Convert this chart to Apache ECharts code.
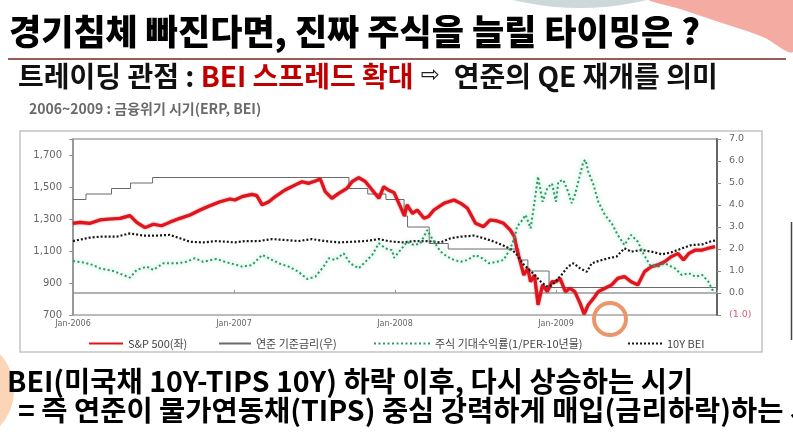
<!DOCTYPE html>
<html>
<head>
<meta charset="utf-8">
<script src="https://cdn.jsdelivr.net/npm/echarts@6/dist/echarts.min.js"></script>
<style>
html,body{margin:0;padding:0;background:#fff;}
#c{width:793px;height:444px;}
</style>
</head>
<body>
<div id="c"></div>
<script>
// ---- Data (x = months since Jan-2006) ----
const xTickYears = [2006, 2007, 2008, 2009];

const spMonths = [0.0,0.52,1.27,2.01,2.76,3.5,4.25,4.75,5.37,5.99,6.6,7.2,7.97,8.72,9.47,10.2,10.96,11.7,12.07,12.6,13.34,13.7,14.1,14.6,15.08,15.8,16.57,17.07,17.57,18.06,18.43,18.8,19.3,19.8,20.42,20.8,21.3,21.8,22.3,22.8,23.16,23.5,23.93,24.4,24.7,24.9,25.3,25.66,26.16,26.5,26.9,27.65,28.4,28.9,29.4,30.0,30.6,31.1,31.6,32.1,32.6,32.9,33.1,33.4,33.6,33.9,34.1,34.4,34.66,35.0,35.35,35.7,36.0,36.3,36.7,37.04,37.4,37.8,38.1,38.4,38.8,39.15,39.65,40.15,40.6,41.1,41.6,42.1,42.6,43.1,43.6,44.1,44.6,45.1,45.5,45.9,46.4,46.9,47.35,47.85];
const spValues = [1273,1279,1273,1294,1300,1304,1321,1279,1246,1267,1258,1279,1304,1325,1356,1383,1408,1425,1419,1440,1454,1446,1388,1408,1440,1481,1513,1533,1523,1538,1550,1471,1429,1460,1492,1533,1558,1533,1481,1429,1502,1481,1465,1377,1320,1388,1335,1356,1304,1315,1356,1398,1419,1398,1367,1273,1252,1294,1288,1273,1231,1190,1106,1013,950,992,908,950,763,888,846,908,908,929,846,867,846,773,705,763,804,846,867,888,929,940,908,888,971,1002,1013,1033,1065,1085,1044,1085,1106,1106,1117,1127];

const fedDates = ['2006-01-01','2006-01-31','2006-03-28','2006-05-10','2006-06-29','2007-09-18','2007-10-31','2007-12-11','2008-01-22','2008-01-30','2008-03-18','2008-04-30','2008-10-08','2008-10-29','2008-12-16','2010-01-01'];
const fedRates = [4.25,4.50,4.75,5.00,5.25,4.75,4.50,4.25,3.50,3.00,2.25,2.00,1.50,1.00,0.25,0.25];

const erpMonths = [0.0,0.77,1.51,2.01,3.0,3.75,4.25,4.75,5.49,5.99,6.73,7.73,8.47,9.09,9.7,10.7,11.45,12.07,12.6,13.34,14.1,14.6,15.33,16.08,16.8,17.44,18.06,18.68,19.06,19.55,20.17,20.67,21.29,21.8,22.3,22.8,23.28,23.78,23.93,24.4,24.9,25.4,25.9,26.4,26.9,27.4,27.9,28.4,28.9,29.4,30.0,30.5,31.0,31.6,32.1,32.6,32.9,33.1,33.4,33.74,34.11,34.4,34.66,35.0,35.35,35.7,36.0,36.17,36.54,36.9,37.17,37.4,37.66,38.04,38.21,38.4,38.8,39.15,39.65,40.15,40.6,41.1,41.6,42.1,42.5,43.0,43.6,44.1,44.87,45.37,45.9,46.4,46.9,47.35,47.73];
const erpValues = [1.45,1.39,1.27,1.12,1.00,0.82,0.70,1.05,1.20,1.05,1.35,1.35,1.42,1.58,1.42,1.55,1.39,1.30,1.20,1.27,1.73,1.58,1.35,1.20,0.97,0.64,0.74,1.20,1.58,1.50,1.80,1.35,1.12,1.42,1.73,2.26,2.03,1.95,1.60,1.95,2.33,2.18,2.26,2.86,2.33,1.88,1.65,1.50,1.42,1.50,1.73,1.58,1.35,1.42,1.50,2.03,2.49,3.02,3.24,3.55,2.94,4.15,5.29,4.15,4.76,4.98,4.15,5.06,5.14,4.61,4.08,4.45,5.06,5.97,6.05,5.52,4.91,4.15,3.55,3.17,2.64,2.18,2.64,2.33,1.80,1.27,1.20,1.35,1.12,0.82,0.90,0.74,0.82,0.52,0.06];

const beiMonths = [0.0,1.27,2.01,3.26,4.25,5.24,6.24,7.2,7.97,8.72,9.7,10.7,11.45,12.07,12.85,13.84,14.83,15.8,16.8,17.8,18.8,19.8,20.8,21.8,22.8,23.5,23.93,24.67,25.4,26.4,27.4,28.15,28.9,29.9,30.6,31.4,32.1,32.75,33.1,33.5,33.9,34.4,34.86,35.3,35.7,36.0,36.4,36.9,37.3,37.8,38.3,38.66,39.15,39.9,40.5,41.1,41.6,42.4,43.1,43.9,44.6,45.4,46.1,46.9,47.6,48.0];
const beiValues = [2.36,2.52,2.56,2.56,2.71,2.61,2.61,2.64,2.49,2.33,2.30,2.36,2.33,2.30,2.36,2.36,2.45,2.41,2.36,2.45,2.36,2.30,2.33,2.36,2.45,2.36,2.33,2.30,2.36,2.36,2.30,2.49,2.56,2.61,2.49,2.33,2.15,1.95,1.73,1.35,1.12,0.82,0.52,0.30,0.35,0.55,0.82,1.20,1.35,1.12,0.97,1.35,1.45,1.58,1.65,2.03,1.88,1.95,1.88,1.76,1.85,2.03,2.18,2.21,2.36,2.40];

const leftTicks = [700, 900, 1100, 1300, 1500, 1700];

// ---- helpers ----
function toMonth(d){
  const p = d.split('-').map(Number);
  const dim = new Date(p[0], p[1], 0).getDate();
  return (p[0]-2006)*12 + (p[1]-1) + (p[2]-1)/dim;
}
function pairs(xs, ys){ return xs.map((x,i)=>[x, ys[i]]); }

const NAMES = ['S&P 500(좌)','연준 기준금리(우)','주식 기대수익률(1/PER-10년물)','10Y BEI'];
const KR = '"Noto Sans CJK KR","Noto Sans",sans-serif';
const AX = '"DejaVu Sans",sans-serif';

const chart = echarts.init(document.getElementById('c'), null, {renderer:'canvas'});
const legendBase = {
  top: 333, orient:'horizontal', itemHeight: 10,
  itemStyle:{opacity:0},
  textStyle:{fontFamily:KR, fontSize:11, color:'#444'},
  selectedMode:false
};
chart.setOption({
  animation:false,
  backgroundColor:'#fff',
  grid:{left:73, right:76, top:139, bottom:129, show:true, borderColor:'#777', borderWidth:1},
  xAxis:{
    type:'value', min:0, max:48, interval:12,
    axisLine:{show:true, lineStyle:{color:'#999', width:1.5}},
    axisTick:{show:true, inside:true, length:3, lineStyle:{color:'#999'}},
    splitLine:{show:false},
    axisLabel:{fontFamily:AX, fontSize:8, color:'#666', margin:5,
      formatter:v=>{const i=v/12; return i<xTickYears.length ? 'Jan-'+xTickYears[i] : '';}}
  },
  yAxis:[{
    type:'value', min:700, max:1800, interval:200, position:'left',
    axisLine:{show:true, lineStyle:{color:'#999', width:2}},
    axisTick:{show:true, length:4, lineStyle:{color:'#999'}},
    splitLine:{show:false},
    axisLabel:{fontFamily:AX, fontSize:10, color:'#666', margin:11,
      formatter:v=> leftTicks.indexOf(v)>=0 ? v.toLocaleString('en-US') : ''}
  },{
    type:'value', min:-1, max:7, interval:1, position:'right',
    axisLine:{show:true, lineStyle:{color:'#666', width:2}},
    axisTick:{show:true, length:4, lineStyle:{color:'#888'}},
    splitLine:{show:false},
    axisLabel:{fontFamily:AX, fontSize:9.5, color:'#666', margin:12,
      formatter:v=> v<0 ? '{n|('+(-v).toFixed(1)+')}' : v.toFixed(1),
      rich:{n:{color:'#d2607c', fontFamily:AX, fontSize:9.5}}}
  }],
  legend:[
    Object.assign({}, legendBase, {data:[NAMES[0]], left:83, itemWidth:34}),
    Object.assign({}, legendBase, {data:[NAMES[1]], left:213, itemWidth:32}),
    Object.assign({}, legendBase, {data:[NAMES[2]], left:368, itemWidth:56}),
    Object.assign({}, legendBase, {data:[NAMES[3]], left:622, itemWidth:34})
  ],
  series:[
    {name:NAMES[1], type:'line', yAxisIndex:1, step:'end', symbol:'none', z:1,
     data:pairs(fedDates.map(toMonth), fedRates),
     lineStyle:{color:'#6a6a6a', width:1}, itemStyle:{color:'#6a6a6a'}},
    {name:NAMES[0], type:'line', yAxisIndex:0, symbol:'none', z:2,
     data:pairs(spMonths, spValues),
     lineStyle:{color:'#e4121b', width:3.2, shadowColor:'rgba(120,0,0,0.55)', shadowBlur:2},
     itemStyle:{color:'#e4121b'}},
    {name:NAMES[3], type:'line', yAxisIndex:1, symbol:'none', z:3,
     data:pairs(beiMonths, beiValues),
     lineStyle:{color:'#161616', width:2.2, type:[2,2]}, itemStyle:{color:'#161616'}},
    {name:NAMES[2], type:'line', yAxisIndex:1, symbol:'none', z:4,
     data:pairs(erpMonths, erpValues),
     lineStyle:{color:'#2c9863', width:2, type:[2,2.5], shadowColor:'rgba(110,215,165,0.9)', shadowBlur:5},
     itemStyle:{color:'#2c9863'}}
  ],
  graphic:[
    // decorative shapes
    {type:'circle', z:-10, shape:{cx:580, cy:-277, r:285}, style:{fill:'#cdd8da'}},
    {type:'polygon', z:-9, shape:{points:[[650,0],[680,9],[713,20],[763,37],[793,52],[793,0]], smooth:0.3}, style:{fill:'#f4aca2'}},
    {type:'circle', z:-10, shape:{cx:-40, cy:390, r:54}, style:{fill:'#fbd5b5'}},
    {type:'line', z:-10, shape:{x1:791.5, y1:222, x2:791.5, y2:340}, style:{stroke:'#444', lineWidth:1.5}},
    // header
    {type:'text', left:9, top:14, z:10, style:{text:'경기침체 빠진다면, 진짜 주식을 늘릴 타이밍은 ?',
      font:'900 35px "Noto Sans CJK KR"', fill:'#000'}},
    {type:'line', z:10, shape:{x1:8, y1:59, x2:786, y2:59}, style:{stroke:'#7a2525', lineWidth:1.5}},
    {type:'text', left:18, top:62, z:10, style:{
      text:'{a|트레이딩 관점 : }{b|BEI 스프레드 확대}{c| ⇨ }{a| 연준의 QE 재개를 의미}',
      rich:{
        a:{fontFamily:'Noto Sans CJK KR', fontWeight:'bold', fontSize:28, fill:'#111'},
        b:{fontFamily:'Noto Sans CJK KR', fontWeight:'bold', fontSize:28, fill:'#c00000'},
        c:{fontFamily:'DejaVu Sans', fontSize:23, fill:'#222'}
      }}},
    // embedded chart frame & title
    {type:'rect', z:-5, shape:{x:20, y:131, width:742, height:221}, style:{fill:'none', stroke:'#c4c4c4', lineWidth:1.5}},
    {type:'text', left:29, top:102, z:10, style:{text:'2006~2009 : 금융위기 시기(ERP, BEI)',
      font:'bold 14px "Noto Sans CJK KR"', fill:'#6a6a6a'}},
    // annotation circle
    {type:'circle', z:100, shape:{cx:610, cy:319, r:16}, style:{fill:'none', stroke:'#ea956a', lineWidth:4}},
    // bottom text
    {type:'text', left:7, top:367, z:10, style:{text:'BEI(미국채 10Y-TIPS 10Y) 하락 이후, 다시 상승하는 시기',
      font:'bold 28.5px "Noto Sans CJK KR"', fill:'#000'}},
    {type:'text', left:18, top:396, z:10, style:{text:'= 즉 연준이 물가연동채(TIPS) 중심 강력하게 매입(금리하락)하는 시기',
      font:'bold 28.5px "Noto Sans CJK KR"', fill:'#000'}}
  ]
});
</script>
</body>
</html>
